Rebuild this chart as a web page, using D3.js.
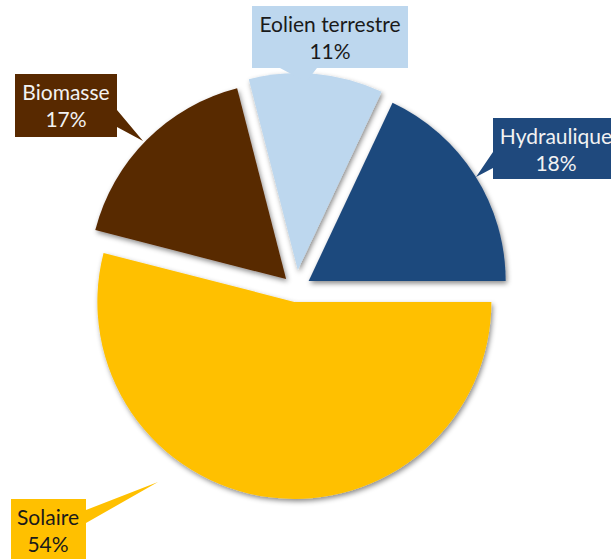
<!DOCTYPE html>
<html>
<head>
<meta charset="utf-8">
<script src="https://cdn.jsdelivr.net/npm/d3@7"></script>
<style>
  body { margin: 0; background: #fff; }
  svg { display: block; }
  .lbl { font-family: Lato, "Liberation Sans", sans-serif; font-size: 21px; }
</style>
</head>
<body>
<script>
// data
var categories = ['Solaire', 'Biomasse', 'Eolien terrestre', 'Hydraulique'];
var shares = [54, 17, 11, 18];
var colors = ['#FFC000', '#582900', '#BDD7EE', '#1F497D'];
var textColors = ['#1a1a1a', '#f2f2f2', '#1a1a1a', '#f2f2f2'];

// layout: how far each slice is pulled out
var explodeBy = [13, 14, 19, 15];

// callout boxes (layout only): box x, y, w, h, text centre, pointer side, pointer base span, tip
var callouts = {
  'Solaire':          { x: 11,  y: 499, w: 75,  h: 64, tx: 48,  side: 'right',  a: 510, b: 523, tip: [158, 482] },
  'Biomasse':         { x: 15,  y: 74,  w: 102, h: 63, tx: 66,  side: 'right',  a: 110, b: 127, tip: [143, 141] },
  'Eolien terrestre': { x: 252, y: 6,   w: 156, h: 62, tx: 330, side: 'bottom', a: 280, b: 317, tip: [306, 82] },
  'Hydraulique':      { x: 493, y: 118, w: 130, h: 61, tx: 556, side: 'left',   a: 152, b: 168, tip: [476, 177] }
};

var width = 611, height = 559;
var cx = 296, cy = 289, radius = 197;

var svg = d3.select('body').append('svg')
  .attr('width', width)
  .attr('height', height);

var defs = svg.append('defs');
var f = defs.append('filter').attr('id', 'shadow')
  .attr('x', '-20%').attr('y', '-20%').attr('width', '140%').attr('height', '140%');
f.append('feDropShadow')
  .attr('dx', 1.5).attr('dy', 2.5)
  .attr('stdDeviation', 2.5)
  .attr('flood-color', '#000')
  .attr('flood-opacity', 0.45);

var pie = d3.pie().sort(null).value(function (d) { return d; })
  .startAngle(Math.PI / 2).endAngle(Math.PI / 2 + 2 * Math.PI);
var arcs = pie(shares);
var arc = d3.arc().innerRadius(0).outerRadius(radius);

var g = svg.append('g').attr('transform', 'translate(' + cx + ',' + cy + ')');

// draw slices, each pushed out along its bisector
g.selectAll('.slice').data(arcs).enter().append('path')
  .attr('class', 'slice')
  .attr('d', arc)
  .attr('fill', function (d, i) { return colors[i]; })
  .attr('filter', 'url(#shadow)')
  .attr('transform', function (d, i) {
    var m = (d.startAngle + d.endAngle) / 2;
    return 'translate(' + (Math.sin(m) * explodeBy[i]) + ',' + (-Math.cos(m) * explodeBy[i]) + ')';
  });

// callout label shapes
function calloutPath(c) {
  var x0 = c.x, y0 = c.y, x1 = c.x + c.w, y1 = c.y + c.h, t = c.tip;
  if (c.side === 'right') {
    return 'M' + x0 + ',' + y0 + 'L' + x1 + ',' + y0 + 'L' + x1 + ',' + c.a + 'L' + t[0] + ',' + t[1] +
      'L' + x1 + ',' + c.b + 'L' + x1 + ',' + y1 + 'L' + x0 + ',' + y1 + 'Z';
  }
  if (c.side === 'left') {
    return 'M' + x0 + ',' + y0 + 'L' + x1 + ',' + y0 + 'L' + x1 + ',' + y1 + 'L' + x0 + ',' + y1 +
      'L' + x0 + ',' + c.b + 'L' + t[0] + ',' + t[1] + 'L' + x0 + ',' + c.a + 'Z';
  }
  return 'M' + x0 + ',' + y0 + 'L' + x1 + ',' + y0 + 'L' + x1 + ',' + y1 + 'L' + c.b + ',' + y1 +
    'L' + t[0] + ',' + t[1] + 'L' + c.a + ',' + y1 + 'L' + x0 + ',' + y1 + 'Z';
}

var labels = svg.selectAll('.label').data(arcs).enter().append('g').attr('class', 'label');

labels.append('path')
  .attr('d', function (d, i) { return calloutPath(callouts[categories[i]]); })
  .attr('fill', function (d, i) { return colors[i]; });

labels.each(function (d, i) {
  var c = callouts[categories[i]];
  var t = d3.select(this).append('text')
    .attr('class', 'lbl')
    .attr('text-anchor', 'middle')
    .attr('fill', textColors[i]);
  t.append('tspan')
    .attr('x', c.tx)
    .attr('y', c.y + 26)
    .text(categories[i]);
  t.append('tspan')
    .attr('x', c.tx)
    .attr('y', c.y + 53)
    .text(Math.round(d.value) + '%');
});
</script>
</body>
</html>
